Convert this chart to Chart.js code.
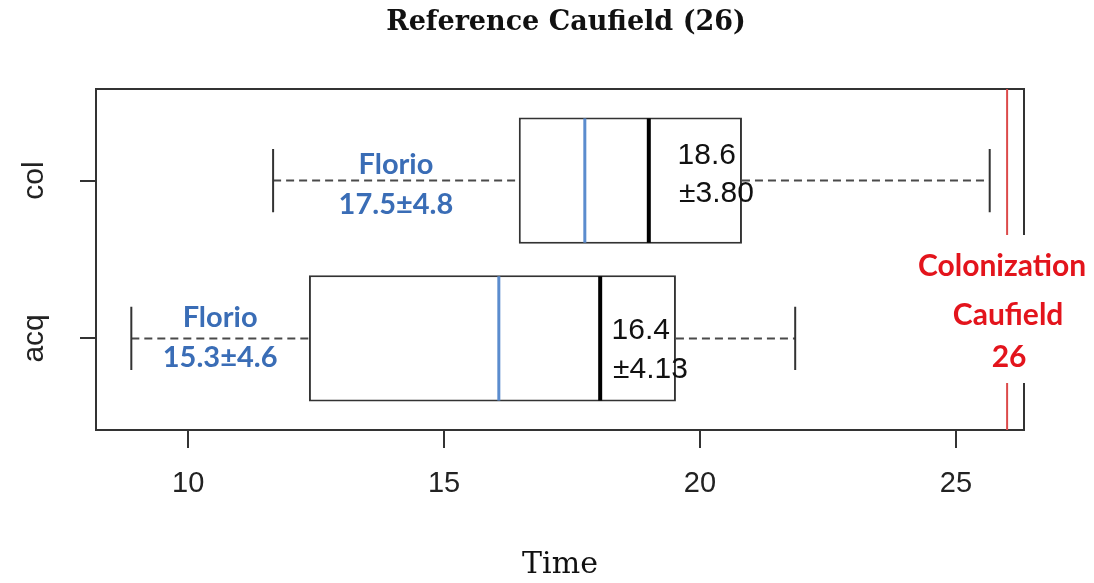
<!doctype html>
<html lang="en">
<head>
    <meta charset="utf-8">
    <title>Reference Caufield (26)</title>
    <script src="https://cdn.jsdelivr.net/npm/chart.js@4.4.1/dist/chart.umd.min.js"></script>
    <style>
        body { margin: 0; background: #fff; }
    </style>
</head>
<body>
<canvas id="myChart" width="1094" height="583"></canvas>

<script>
    // boxplot values (time)
    const groups = ['col', 'acq'];
    const groupPos = [1, 2];
    const whiskerLow = [11.66, 8.89];
    const boxLow = [16.46, 12.36];
    const medians = [19.0, 18.05];
    const boxHigh = [20.82, 19.53];
    const whiskerHigh = [25.66, 21.86];
    const florioMeans = [17.75, 16.07];
    const florioLabels = ['17.5±4.8', '15.3±4.6'];
    const meanLabels = ['18.6', '16.4'];
    const sdLabels = ['±3.80', '±4.13'];
    const xTicks = [10, 15, 20, 25];
    const refValue = 26;
    const refLabels = ['Colonization', 'Caufield', '26'];
    const chartTitle = 'Reference Caufield (26)';

    // label offsets (px) from the whisker line, per row
    const florioDy = [[-16, 24], [-21, 19]];
    const noteDy = [[-25, 13], [-8, 31]];

    const blueText = '#3a6db6';
    const blueLine = '#5b8cce';
    const redText = '#e3141c';

    const boxExtras = {
        id: 'boxExtras',
        afterDatasetsDraw(chart) {
            const ctx = chart.ctx;
            const x = chart.scales.x;
            const y = chart.scales.y;
            const area = chart.chartArea;
            const meta = chart.getDatasetMeta(0);

            ctx.save();
            // title, centred a little right of the plot like the original
            ctx.fillStyle = '#111';
            ctx.font = 'bold 27px "DejaVu Serif", serif';
            ctx.textAlign = 'center';
            ctx.textBaseline = 'middle';
            ctx.fillText(chartTitle, (area.left + area.right) / 2 + 6, 23);

            // top and right frame
            ctx.strokeStyle = '#333';
            ctx.lineWidth = 2;
            ctx.beginPath();
            ctx.moveTo(area.left, area.top);
            ctx.lineTo(area.right, area.top);
            ctx.lineTo(area.right, area.bottom);
            ctx.stroke();

            groups.forEach((g, i) => {
                const cy = y.getPixelForValue(groupPos[i]);
                const half = meta.data[i].height / 2;

                // dashed whiskers
                ctx.strokeStyle = '#4a4a4a';
                ctx.lineWidth = 2;
                ctx.setLineDash([8, 5]);
                ctx.beginPath();
                ctx.moveTo(x.getPixelForValue(whiskerLow[i]), cy);
                ctx.lineTo(x.getPixelForValue(boxLow[i]), cy);
                ctx.moveTo(x.getPixelForValue(boxHigh[i]), cy);
                ctx.lineTo(x.getPixelForValue(whiskerHigh[i]), cy);
                ctx.stroke();
                ctx.setLineDash([]);

                // staples
                ctx.strokeStyle = '#333';
                ctx.beginPath();
                [whiskerLow[i], whiskerHigh[i]].forEach(v => {
                    const px = x.getPixelForValue(v);
                    ctx.moveTo(px, cy - half / 2);
                    ctx.lineTo(px, cy + half / 2);
                });
                ctx.stroke();

                // Florio mean
                let px = x.getPixelForValue(florioMeans[i]);
                ctx.strokeStyle = blueLine;
                ctx.lineWidth = 3;
                ctx.beginPath();
                ctx.moveTo(px, cy - half + 1);
                ctx.lineTo(px, cy + half - 1);
                ctx.stroke();

                // median
                px = x.getPixelForValue(medians[i]);
                ctx.strokeStyle = '#000';
                ctx.lineWidth = 4;
                ctx.beginPath();
                ctx.moveTo(px, cy - half + 1);
                ctx.lineTo(px, cy + half - 1);
                ctx.stroke();

                // Florio notes
                const fx = x.getPixelForValue((whiskerLow[i] + boxLow[i]) / 2);
                ctx.fillStyle = blueText;
                ctx.font = 'bold 29px Lato, "Open Sans", sans-serif';
                ctx.textAlign = 'center';
                ctx.fillText('Florio', fx, cy + florioDy[i][0]);
                ctx.fillText(florioLabels[i], fx, cy + florioDy[i][1]);

                // mean / sd notes
                const nx = x.getPixelForValue(boxHigh[i]);
                ctx.fillStyle = '#111';
                ctx.font = '30px "Liberation Sans", Arial, sans-serif';
                ctx.textAlign = 'right';
                ctx.fillText(meanLabels[i], nx - 6, cy + noteDy[i][0]);
                ctx.fillText(sdLabels[i], nx + 12, cy + noteDy[i][1]);

                // group label, rotated like R
                ctx.save();
                ctx.translate(35, cy);
                ctx.rotate(-Math.PI / 2);
                ctx.fillStyle = '#222';
                ctx.font = '30px "Liberation Sans", Arial, sans-serif';
                ctx.textAlign = 'center';
                ctx.fillText(g, 0, 0);
                ctx.restore();
            });

            // reference line
            const rx = x.getPixelForValue(refValue);
            ctx.strokeStyle = '#dc4a4a';
            ctx.lineWidth = 2;
            ctx.beginPath();
            ctx.moveTo(rx, area.top);
            ctx.lineTo(rx, area.bottom);
            ctx.stroke();

            ctx.fillStyle = '#fff';
            ctx.fillRect(rx - 92, area.top + 146, 184, 148);
            ctx.fillStyle = redText;
            ctx.font = 'bold 30px Lato, "Open Sans", sans-serif';
            ctx.textAlign = 'center';
            ctx.textBaseline = 'middle';
            ctx.fillText(refLabels[0], rx - 5, area.top + 177);
            ctx.fillText(refLabels[1], rx + 1, area.top + 226);
            ctx.fillText(refLabels[2], rx + 2, area.top + 268);
            ctx.restore();
        }
    };

    const canvas = document.getElementById('myChart');

    new Chart(canvas, {
        type: 'bar',
        data: {
            datasets: [{
                data: groups.map((g, i) => ({x: [boxLow[i], boxHigh[i]], y: groupPos[i]})),
                backgroundColor: '#fff',
                borderColor: '#333',
                borderWidth: 2,
                borderSkipped: false,
                categoryPercentage: 1,
                barPercentage: 0.8
            }]
        },
        options: {
            indexAxis: 'y',
            responsive: false,
            animation: false,
            layout: {padding: {top: 89, right: 70}},
            plugins: {
                legend: {display: false},
                tooltip: {enabled: false}
            },
            scales: {
                x: {
                    type: 'linear',
                    min: 8.2,
                    max: 26.33,
                    afterBuildTicks: s => { s.ticks = xTicks.map(v => ({value: v})); },
                    afterFit: s => { s.height = 153; },
                    grid: {drawOnChartArea: false, color: '#333', lineWidth: 2, tickLength: 18},
                    border: {display: true, color: '#333', width: 2},
                    ticks: {
                        color: '#222',
                        padding: 19,
                        font: {family: '"Liberation Sans", Arial, sans-serif', size: 29}
                    },
                    title: {
                        display: true,
                        text: 'Time',
                        color: '#111',
                        padding: 0,
                        font: {family: '"DejaVu Serif", serif', size: 30}
                    }
                },
                y: {
                    type: 'linear',
                    min: 0.42,
                    max: 2.58,
                    reverse: true,
                    offset: false,
                    afterBuildTicks: s => { s.ticks = groupPos.map(v => ({value: v})); },
                    afterFit: s => { s.width = 96; },
                    grid: {offset: false, drawOnChartArea: false, color: '#333', lineWidth: 2, tickLength: 16},
                    border: {display: true, color: '#333', width: 2},
                    ticks: {display: false}
                }
            }
        },
        plugins: [boxExtras]
    });
</script>
</body>
</html>
